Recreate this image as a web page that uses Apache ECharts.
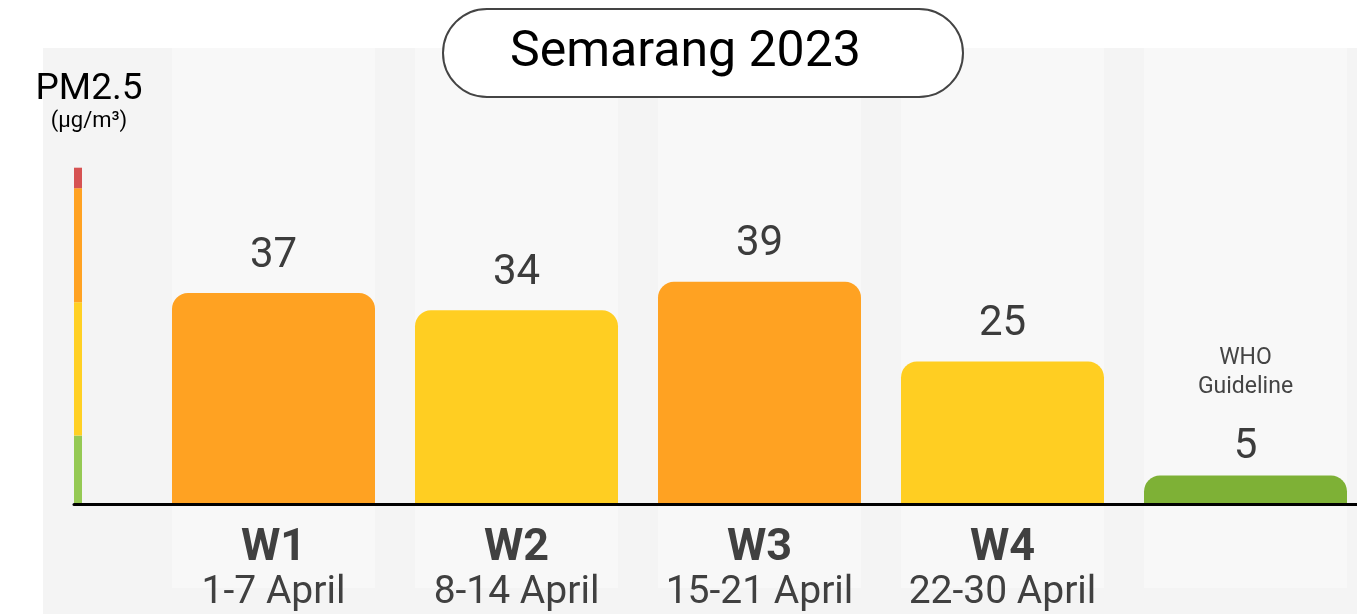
<!DOCTYPE html>
<html>
<head>
<meta charset="utf-8">
<title>Semarang 2023 PM2.5</title>
<script src="https://cdn.jsdelivr.net/npm/echarts@6.0.0/dist/echarts.min.js"></script>
<style>
  html, body { margin: 0; padding: 0; background: #fff; }
  #chart { width: 1357px; height: 614px; }
</style>
</head>
<body>
<div id="chart"></div>
<script>
// weekly PM2.5 averages (µg/m³)
const weeks = ['W1', 'W2', 'W3', 'W4', 'WHO'];
const dateRanges = ['1-7 April', '8-14 April', '15-21 April', '22-30 April'];
const pm25 = [37, 34, 39, 25, 5];
const barColors = ['#FFA222', '#FFCE22', '#FFA222', '#FFCE22', '#7EB136'];

// colour scale on the left: band edges and colours
const bandEdges = [0, 12, 35.4, 55.4, 59];
const bandColors = ['#95C954', '#FFD024', '#FFA222', '#D65252'];

const yMin = -14.74;
const yMax = 80;

const myChart = echarts.init(document.getElementById('chart'));

// small scale grid: 10 slots of 8px, only the first one holds the bar
const scaleSlots = ['scale', '', '', '', '', '', '', '', '', ''];
const scaleSeries = bandColors.map((c, i) => ({
  type: 'bar',
  xAxisIndex: 1,
  yAxisIndex: 1,
  stack: 'scale',
  barWidth: 8,
  silent: true,
  itemStyle: { color: c },
  data: [bandEdges[i + 1] - bandEdges[i]]
}));

const option = {
  animation: false,
  textStyle: { fontFamily: 'Roboto' },
  graphic: [
    {
      type: 'rect',
      z: -10,
      silent: true,
      shape: { x: 43, y: 48, width: 1314, height: 566 },
      style: { fill: '#f4f4f4' }
    }
  ],
  title: [
    {
      text: 'Semarang 2023',
      left: 443,
      top: 9,
      textAlign: 'left',
      padding: [16, 102, 16, 67],
      backgroundColor: '#fff',
      borderColor: '#444',
      borderWidth: 2,
      borderRadius: 44,
      textStyle: { fontSize: 50, fontWeight: 'normal', color: '#000', lineHeight: 56 }
    },
    {
      text: 'PM2.5',
      subtext: '(μg/m³)',
      left: 84,
      top: 66,
      textAlign: 'center',
      itemGap: 2,
      textStyle: { fontSize: 37, fontWeight: 'normal', color: '#000' },
      subtextStyle: { fontSize: 22, color: '#000' }
    }
  ],
  grid: [
    { left: 152, top: 48, width: 1215, height: 540, outerBoundsMode: 'none' },
    { left: 74, top: 48, width: 80, height: 540, outerBoundsMode: 'none' }
  ],
  xAxis: [
    {
      type: 'category',
      gridIndex: 0,
      z: 5,
      data: weeks,
      axisTick: { show: false },
      axisLine: { lineStyle: { color: '#000', width: 3 } },
      axisLabel: {
        margin: -61,
        formatter: (v, i) => (i < dateRanges.length ? '{w|' + v + '}\n{d|' + dateRanges[i] + '}' : ''),
        rich: {
          w: { fontSize: 45, fontWeight: 'bold', lineHeight: 44, color: '#404040' },
          d: { fontSize: 39, lineHeight: 44, color: '#404040' }
        }
      }
    },
    {
      type: 'category',
      gridIndex: 1,
      z: 5,
      data: scaleSlots,
      axisTick: { show: false },
      axisLabel: { show: false },
      axisLine: { lineStyle: { color: '#000', width: 3 } }
    }
  ],
  yAxis: [
    { type: 'value', gridIndex: 0, min: yMin, max: yMax, show: false },
    { type: 'value', gridIndex: 1, min: yMin, max: yMax, show: false }
  ],
  series: [
    {
      type: 'bar',
      barWidth: 203,
      showBackground: true,
      backgroundStyle: { color: '#f8f8f8' },
      data: pm25.map((v, i) => ({
        value: v,
        itemStyle: { color: barColors[i], borderRadius: [16, 16, 0, 0] },
        label: { distance: i === 4 ? 4 : 13 }
      })),
      label: {
        show: true,
        position: 'top',
        color: '#3c3c3c',
        formatter: (p) =>
          p.dataIndex === 4
            ? '{s|WHO}\n{s|Guideline}\n{g| }\n{v|' + p.value + '}'
            : '{v|' + p.value + '}',
        rich: {
          v: { fontSize: 42, lineHeight: 48, color: '#3c3c3c' },
          s: { fontSize: 23, lineHeight: 29, color: '#444' },
          g: { fontSize: 10, lineHeight: 22 }
        }
      }
    },
    ...scaleSeries
  ]
};

option && myChart.setOption(option);
window.addEventListener('resize', myChart.resize);
</script>
</body>
</html>
